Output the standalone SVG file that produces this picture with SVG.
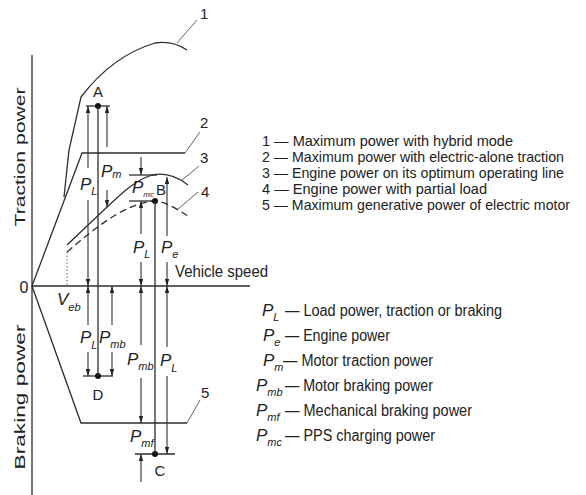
<svg xmlns="http://www.w3.org/2000/svg" width="586" height="495" viewBox="0 0 586 495">
<defs>
<style>
.ln{fill:none;stroke:#2e2e2e;stroke-width:1.3}
.th{fill:none;stroke:#555;stroke-width:0.9}
.dim{fill:none;stroke:#2e2e2e;stroke-width:1.1;marker-end:url(#ah)}
.t{font-family:"Liberation Sans",Arial,sans-serif;fill:#222}
.m{font-family:"Liberation Sans",Arial,sans-serif;font-style:italic;font-size:17px;fill:#222}
.s{font-size:11px}
.lg{font-family:"Liberation Sans",Arial,sans-serif;font-size:14.5px;fill:#222}
.lg2{font-family:"Liberation Sans",Arial,sans-serif;font-size:16px;fill:#222}
.dot{fill:#111}
</style>
<marker id="ah" viewBox="0 0 8 5" refX="8" refY="2.5" markerWidth="7" markerHeight="4.4" markerUnits="userSpaceOnUse" orient="auto">
<path d="M0,0 L8,2.5 L0,5 z" fill="#222"/>
</marker>
</defs>
<rect width="586" height="495" fill="#fff"/>

<g id="axes">
<path class="ln" d="M32,55 V495"/>
<path class="ln" d="M32,286 H250"/>
<text class="t" x="24" y="293" font-size="16" text-anchor="middle">0</text>
<text class="t" x="175" y="277" font-size="16" textLength="93" lengthAdjust="spacingAndGlyphs">Vehicle speed</text>
<text class="t" x="25" y="157" font-size="14" text-anchor="middle" textLength="139" lengthAdjust="spacingAndGlyphs" transform="rotate(-90 25 157)">Traction power</text>
<text class="t" x="25" y="397" font-size="14" text-anchor="middle" textLength="145" lengthAdjust="spacingAndGlyphs" transform="rotate(-90 25 397)">Braking power</text>
</g>

<g id="curve1">
<path class="ln" d="M64,197 L69,150 L81,97 C100,72 125,52 155,43 C168,41 178,44 187,50"/>
<path class="th" d="M177,43 L197,20"/>
<text class="t" x="200" y="19" font-size="15">1</text>
</g>

<g id="curve2">
<path class="ln" d="M32,286 L82,153 H185"/>
<path class="th" d="M185,153 L200,132"/>
<text class="t" x="200" y="128" font-size="15">2</text>
</g>

<g id="curve3">
<path class="ln" d="M67,245 L106,208 C120,195 135,180 152,175 C166,172 178,177 188,185"/>
<path class="th" d="M181,181 L199,166"/>
<text class="t" x="200" y="163" font-size="15">3</text>
</g>

<g id="curve4">
<path class="ln" d="M67,252 C95,228 125,203 155,201 C165,201 178,210 188,216" stroke-dasharray="7,4"/>
<path class="th" d="M178,209 L198,192"/>
<text class="t" x="201" y="197" font-size="15">4</text>
<path class="th" d="M67,252 V286" stroke-dasharray="1.5,2"/>
<text class="m" x="57" y="305">V<tspan class="s" dy="6">eb</tspan></text>
</g>

<g id="curve5">
<path class="ln" d="M32,286 L81,423 H187"/>
<path class="th" d="M187,423 L200,400"/>
<text class="t" x="201" y="398" font-size="15">5</text>
</g>

<g id="pointA">
<path class="ln" d="M86,106 H110"/>
<circle class="dot" cx="98" cy="106" r="3"/>
<text class="t" x="98" y="97" font-size="15" text-anchor="middle">A</text>
<text class="m" x="80" y="190">P<tspan class="s" dy="5">L</tspan></text>
<text class="m" x="101" y="177">P<tspan class="s" dy="1">m</tspan></text>
</g>

<g id="pointB">
<path class="ln" d="M129,175 H157"/>
<path class="ln" d="M129,201 H157"/>
<circle class="dot" cx="155" cy="201" r="3"/>
<text class="t" x="156" y="195" font-size="15">B</text>
<text class="m" x="132" y="193" font-size="13">P<tspan font-size="8" dy="4">mc</tspan></text>
<text class="m" x="133" y="253">P<tspan class="s" dy="5">L</tspan></text>
<text class="m" x="161" y="253">P<tspan class="s" dy="5">e</tspan></text>
</g>

<g id="pointD">
<path class="ln" d="M83,376 H113"/>
<circle class="dot" cx="98" cy="376" r="3"/>
<text class="t" x="98" y="400" font-size="15" text-anchor="middle">D</text>
<text class="m" x="80" y="343">P<tspan class="s" dy="6">L</tspan></text>
<text class="m" x="99" y="343">P<tspan class="s" dy="5">mb</tspan></text>
</g>

<g id="pointC">
<path class="ln" d="M135,454 H175"/>
<circle class="dot" cx="155" cy="454" r="3"/>
<text class="t" x="160" y="476" font-size="15" text-anchor="middle">C</text>
<text class="m" x="127" y="365">P<tspan class="s" dy="5">mb</tspan></text>
<text class="m" x="160" y="366">P<tspan class="s" dy="6">L</tspan></text>
<text class="m" x="130" y="442">P<tspan class="s" dy="5">mf</tspan></text>
</g>

<g id="connectors">
<path class="ln" d="M98,106 V376"/>
<path class="ln" d="M155,201 V454"/>
<path class="dim" d="M88,168 V106"/>
<path class="dim" d="M88,200 V286"/>
<path class="dim" d="M107,147 V106"/>
<path class="dim" d="M107,190 V207"/>
<path class="dim" d="M88,325 V286"/>
<path class="dim" d="M88,352 V376"/>
<path class="dim" d="M112,325 V286"/>
<path class="dim" d="M112,352 V376"/>
<path class="dim" d="M141,157 V175"/>
<path class="dim" d="M141,234 V201"/>
<path class="dim" d="M141,262 V286"/>
<path class="dim" d="M167,236 V177"/>
<path class="dim" d="M167,262 V286"/>
<path class="dim" d="M141,345 V286"/>
<path class="dim" d="M141,378 V423"/>
<path class="dim" d="M141,482 V454"/>
<path class="dim" d="M167,347 V286"/>
<path class="dim" d="M167,376 V454"/>
</g>

<g id="legend-curves">
<text class="lg" x="262" y="146" textLength="251" lengthAdjust="spacingAndGlyphs">1 — Maximum power with hybrid mode</text>
<text class="lg" x="262" y="162" textLength="302" lengthAdjust="spacingAndGlyphs">2 — Maximum power with electric-alone traction</text>
<text class="lg" x="262" y="178" textLength="302" lengthAdjust="spacingAndGlyphs">3 — Engine power on its optimum operating line</text>
<text class="lg" x="262" y="194" textLength="225" lengthAdjust="spacingAndGlyphs">4 — Engine power with partial load</text>
<text class="lg" x="262" y="210" textLength="308" lengthAdjust="spacingAndGlyphs">5 — Maximum generative power of electric motor</text>
</g>

<g id="legend-symbols">
<text class="m" x="262" y="316">P<tspan class="s" dy="5">L</tspan></text>
<text class="lg2" x="285" y="316" textLength="217" lengthAdjust="spacingAndGlyphs">— Load power, traction or braking</text>
<text class="m" x="263" y="341">P<tspan class="s" dy="5">e</tspan></text>
<text class="lg2" x="285" y="341" textLength="105" lengthAdjust="spacingAndGlyphs">— Engine power</text>
<text class="m" x="263" y="366">P<tspan class="s" dy="5">m</tspan></text>
<text class="lg2" x="283" y="366" textLength="150" lengthAdjust="spacingAndGlyphs">— Motor traction power</text>
<text class="m" x="256" y="391">P<tspan class="s" dy="5">mb</tspan></text>
<text class="lg2" x="285" y="391" textLength="148" lengthAdjust="spacingAndGlyphs">— Motor braking power</text>
<text class="m" x="256" y="416">P<tspan class="s" dy="5">mf</tspan></text>
<text class="lg2" x="285" y="416" textLength="187" lengthAdjust="spacingAndGlyphs">— Mechanical braking power</text>
<text class="m" x="256" y="441">P<tspan class="s" dy="5">mc</tspan></text>
<text class="lg2" x="285" y="441" textLength="150" lengthAdjust="spacingAndGlyphs">— PPS charging power</text>
</g>
</svg>
